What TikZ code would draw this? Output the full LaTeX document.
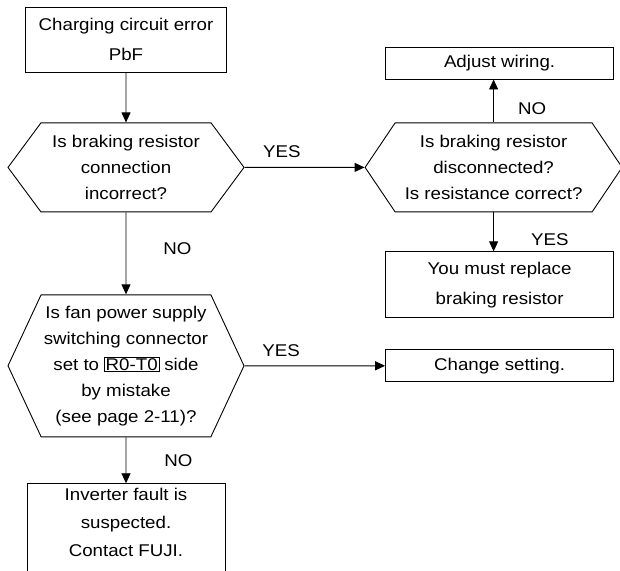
\documentclass[tikz,border=0pt]{standalone}
\usepackage{fontspec}
\setmainfont{Liberation Sans}[FakeStretch=1.1]
\usetikzlibrary{arrows.meta, positioning, shapes.symbols}

\begin{document}
\begin{tikzpicture}[
  x=1pt, y=1pt, line width=0.9pt,
  font=\fontsize{17}{26}\selectfont, >={Triangle[length=10pt, width=9pt]},
  box/.style={draw, align=center, inner sep=0pt, font=\fontsize{17}{30}\selectfont},
  ask/.style={draw, signal, signal to=east and west, align=center, inner sep=0pt,
              minimum height=89pt},
  lbl/.style={inner sep=0pt},
]
  \useasboundingbox (0,0) rectangle (620,-570);
  \setlength\fboxsep{1pt}

  \node[box, minimum width=201pt, minimum height=65pt] (start) at (126,-39.5)
    {Charging circuit error\\ PbF};
  \node[ask, minimum width=236pt, signal pointer angle=107, below=50pt of start] (q1)
    {Is braking resistor\\ connection\\ incorrect?};
  \node[ask, minimum width=257pt, signal pointer angle=112, right=120pt of q1] (q2)
    {Is braking resistor\\ disconnected?\\ Is resistance correct?};
  \node[box, minimum width=228pt, minimum height=32pt, above=43pt of q2, xshift=6pt] (adj)
    {Adjust wiring.};
  \node[box, minimum width=228pt, minimum height=66pt, below=39pt of q2, xshift=6pt] (rep)
    {You must replace\\ braking resistor};
  \node[ask, minimum width=236pt, minimum height=142pt, signal pointer angle=130,
        below=82pt of q1] (q3)
    {Is fan power supply\\ switching connector\\ set to \fbox{R0-T0} side\\ by mistake\\ (see page 2-11)?};
  \node[box, minimum width=228pt, minimum height=32pt] (chg) at (q3 -| rep)
    {Change setting.};
  \node[box, minimum width=198pt, inner ysep=4pt, text depth=40pt,
        font=\fontsize{17}{28}\selectfont, below=46pt of q3] (fault)
    {Inverter fault is\\ suspected.\\ Contact FUJI.};

  \draw[->] (start) -- (q1);
  \draw[->] (q1) -- node[lbl, pos=0.31, above=9.5pt] {YES} (q2);
  \draw[->] (q2.north) -- node[lbl, pos=0.33, right=24pt] {NO} (q2.north |- adj.south);
  \draw[->] (q2.south) -- node[lbl, pos=0.69, right=37pt] {YES} (q2.south |- rep.north);
  \draw[->] (q1) -- node[lbl, pos=0.44, right=37pt] {NO} (q3);
  \draw[->] (q3) -- node[lbl, pos=0.26, above=9pt] {YES} (chg);
  \draw[->] (q3) -- node[lbl, pos=0.5, right=38pt] {NO} (fault);
\end{tikzpicture}
\end{document}
